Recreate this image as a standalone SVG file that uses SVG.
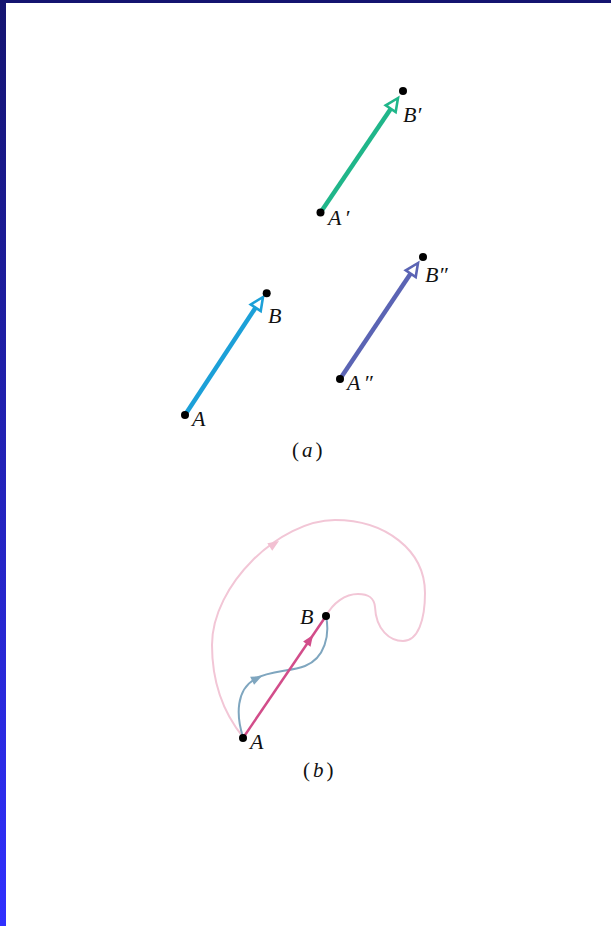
<svg xmlns="http://www.w3.org/2000/svg" xmlns:xlink="http://www.w3.org/1999/xlink" width="611" height="926" viewBox="0 0 611 926">
<style>
.lbl{font-family:"Liberation Serif","Times New Roman",serif;font-style:italic;font-size:22px;fill:#111}
.cap{font-family:"Liberation Serif","Times New Roman",serif;font-size:21px;fill:#111}
.dot{fill:#000}
.hollow{fill:#fff;stroke-width:2.6;stroke-linejoin:miter}
</style>
<defs>
<linearGradient id="edge" x1="0" y1="0" x2="0" y2="1">
<stop offset="0" stop-color="#141470"/>
<stop offset="1" stop-color="#3030ff"/>
</linearGradient>
<path id="head" d="M0,0 L-13,-6 L-13,6 Z"/>
<path id="fhead" d="M0,0 L-11,-4.5 L-11,4.5 Z"/>
</defs>
<rect x="0" y="0" width="611" height="926" fill="#fff"/>
<rect x="0" y="0" width="611" height="3" fill="#141470"/>
<rect x="0" y="0" width="6" height="926" fill="url(#edge)"/>

<g id="connectors" fill="none">
<line x1="320.5" y1="212.5" x2="392" y2="107" stroke="#20b68a" stroke-width="4.5"/>
<use xlink:href="#head" class="hollow" stroke="#20b68a" transform="translate(398,98) rotate(-55.8)"/>
<line x1="185" y1="415" x2="256" y2="307" stroke="#1ca0d8" stroke-width="4.5"/>
<use xlink:href="#head" class="hollow" stroke="#1ca0d8" transform="translate(263,297) rotate(-56.1)"/>
<line x1="340" y1="379" x2="411" y2="273" stroke="#5b64b4" stroke-width="4.5"/>
<use xlink:href="#head" class="hollow" stroke="#5b64b4" transform="translate(418,263) rotate(-56)"/>

<path d="M243,737 C226,716 212,688 212,645 C212,585 280,520 335,520 C385,520 425,550 425,593 C425,620 418,641 403,641 C390,641 376,630 375,607 C374,597 368,594 358,594 C345,594 333,603 326,616" stroke="#f2c6d6" stroke-width="2"/>
<use xlink:href="#fhead" fill="#f2c0d2" transform="translate(279,541) rotate(-33)"/>
<path d="M243,737 C236,715 236,690 255,679 C270,670 290,672 305,666 C325,658 330,635 326,616" stroke="#7fa6bf" stroke-width="2"/>
<use xlink:href="#fhead" fill="#7fa6bf" transform="translate(262,676) rotate(-26)"/>
<line x1="243" y1="738" x2="326" y2="616" stroke="#d24d8a" stroke-width="2.5"/>
<use xlink:href="#fhead" fill="#d24d8a" transform="translate(313,635) rotate(-55.8)"/>
</g>

<g id="node-Bp"><circle class="dot" cx="403" cy="91" r="4"/><text class="lbl" x="403" y="122">B′</text></g>
<g id="node-Ap"><circle class="dot" cx="320.5" cy="212.5" r="4"/><text class="lbl" x="328" y="225">A<tspan dx="3">′</tspan></text></g>
<g id="node-B"><circle class="dot" cx="266.7" cy="293.3" r="4"/><text class="lbl" x="268" y="323">B</text></g>
<g id="node-A"><circle class="dot" cx="185" cy="415" r="4"/><text class="lbl" x="192" y="426">A</text></g>
<g id="node-Bpp"><circle class="dot" cx="423" cy="257" r="4"/><text class="lbl" x="425" y="282">B″</text></g>
<g id="node-App"><circle class="dot" cx="340" cy="379" r="4"/><text class="lbl" x="347" y="390">A<tspan dx="3">″</tspan></text></g>
<g id="caption-a"><text class="cap" x="292" y="457">(<tspan dx="3" font-style="italic">a</tspan><tspan dx="3">)</tspan></text></g>

<g id="node-B2"><circle class="dot" cx="326" cy="616" r="4"/><text class="lbl" x="300" y="624">B</text></g>
<g id="node-A2"><circle class="dot" cx="243" cy="738" r="4"/><text class="lbl" x="250" y="749">A</text></g>
<g id="caption-b"><text class="cap" x="303" y="777">(<tspan dx="3" font-style="italic">b</tspan><tspan dx="3">)</tspan></text></g>
</svg>
